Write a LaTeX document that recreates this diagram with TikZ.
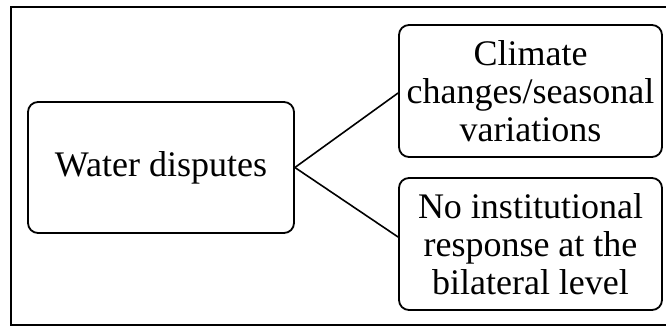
\documentclass[tikz,border=0pt]{standalone}
\usepackage{fontspec}
\setmainfont{Liberation Serif}
\begin{document}
\begin{tikzpicture}[x=0.5pt,y=-0.5pt,
  boxstyle/.style={draw, line width=0.9pt, rounded corners=5pt, inner sep=0pt,
    align=center, font=\fontsize{18}{19}\selectfont},
  linkstyle/.style={line width=0.8pt}]
\useasboundingbox (0,0) rectangle (666,327);
\draw[line width=1pt] (666,7) -- (11,7) -- (11,325) -- (666,325);
\node[boxstyle, minimum width=133pt, minimum height=65.5pt] (lw) at (161,167.5) {Water disputes};
\node[boxstyle, minimum width=131.5pt, minimum height=66pt] (top) at (530.5,91) {Climate\\changes/seasonal\\variations};
\node[boxstyle, minimum width=131.5pt, minimum height=66pt] (bot) at (530.5,244) {No institutional\\response at the\\bilateral level};
\draw[linkstyle] (lw.east) -- ([yshift=-1pt]top.west);
\draw[linkstyle] (lw.east) -- ([yshift=3.5pt]bot.west);
\end{tikzpicture}
\end{document}
